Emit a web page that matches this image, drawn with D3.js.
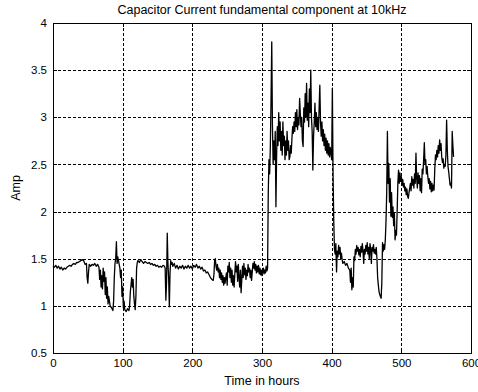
<!DOCTYPE html>
<html>
<head>
<meta charset="utf-8">
<script src="https://cdn.jsdelivr.net/npm/d3@7"></script>
<style>
  body { margin: 0; background: #fff; }
  svg { display: block; font-family: "Liberation Sans", Arial, sans-serif; }
  .grid line { stroke: #000; stroke-dasharray: 3,2; stroke-width: 1; shape-rendering: crispEdges; }
  .axis text { font-size: 11.5px; fill: #000; }
</style>
</head>
<body>
<svg id="chart"></svg>
<script>
// readings, one per hour or so
var hours = [0,2,4,6,8,10,12,14,16,18,20,22,24,26,28,30,32,34,36,38,40,42,44,46,48,49,50,51,52,54,56,58,60,62,64,66,
  67,68,69,70,71,72,73,74,75,76,77,78,79,80,82,84,86,87,88,89,90,91,92,93,94,95,96,97,98,99,100,101,102,103,105,107,109,
  110,111,112,113,114,115,116,117,118,119,120,121,122,124,126,128,130,132,134,136,138,140,142,144,146,148,150,152,154,
  156,158,160,161,162,163,164,165,166,167,168,169,170,171,172,174,176,178,180,182,184,186,188,190,192,194,196,198,200,
  202,204,206,208,210,212,214,216,218,220,222,224,226,228,230,231,232,233,234,235,236,237,238,239,240,241,242,243,244,
  245,246,247,248,249,250,251,252,253,254,255,256,257,258,259,260,261,262,263,264,265,266,267,268,269,270,271,272,273,
  274,275,276,277,278,279,280,281,282,283,284,285,286,287,288,289,290,291,292,293,294,295,296,297,298,299,300,301,302,
  303,304,305,306,307,308,309,310,311,312,313,314,315,316,317,318,319,320,321,322,323,324,325,326,327,328,329,330,331,
  332,333,334,335,336,337,338,339,340,341,342,343,344,345,346,347,348,349,350,351,352,353,354,355,356,357,358,359,360,
  361,362,363,364,365,366,367,368,369,370,371,372,373,374,375,376,377,378,379,380,381,382,383,384,385,386,387,388,389,
  390,391,392,393,394,395,396,397,398,399,400,401,402,403,404,405,406,407,408,409,410,411,412,413,414,415,416,418,420,
  422,424,426,427,428,429,430,431,432,433,434,435,436,437,438,439,440,441,442,443,444,445,446,447,448,449,450,451,452,
  453,454,455,456,457,458,459,460,461,462,463,464,465,466,467,468,469,470,471,472,473,474,475,476,477,478,479,480,481,
  482,483,484,485,486,487,488,489,490,491,492,493,494,495,496,497,498,499,500,501,502,503,504,505,506,507,508,509,510,
  511,512,513,514,515,516,517,518,519,520,521,522,523,524,525,526,527,528,529,530,531,532,533,534,535,536,537,538,539,
  540,541,542,543,544,545,546,547,548,549,550,551,552,553,554,555,556,557,558,559,560,561,562,563,564,565,566,567,568,
  569,570,571,572,573,574,575];

var amps = [1.42,1.41,1.43,1.40,1.42,1.39,1.41,1.38,1.40,1.39,1.41,1.42,1.43,1.42,1.44,1.45,1.44,1.46,1.46,1.47,1.48,1.49,1.48,1.44,1.45,1.30,1.24,1.36,1.44,1.42,1.44,1.43,1.45,1.42,1.44,1.41,
  1.28,1.38,1.20,1.32,1.18,1.40,1.26,1.36,1.12,1.30,1.08,1.20,1.02,1.10,1.00,0.98,0.95,1.05,1.30,1.45,1.50,1.68,1.45,1.52,1.48,1.44,1.40,1.30,1.38,1.10,1.20,0.98,1.05,0.96,0.94,0.97,0.95,
  1.00,1.15,1.22,1.30,1.20,1.28,1.10,1.02,0.96,1.10,1.40,1.46,1.48,1.46,1.49,1.47,1.45,1.47,1.46,1.45,1.46,1.44,1.45,1.43,1.44,1.42,1.43,1.41,1.42,
  1.41,1.43,1.42,1.40,1.06,1.25,1.77,1.45,1.30,0.99,1.35,1.48,1.44,1.46,1.42,1.45,1.40,1.43,1.39,1.42,1.40,1.43,1.39,1.42,1.40,1.43,1.40,1.42,1.39,
  1.43,1.41,1.44,1.40,1.42,1.39,1.41,1.37,1.38,1.35,1.36,1.33,1.30,1.28,1.27,1.33,1.48,1.50,1.42,1.38,1.44,1.36,1.40,1.30,1.38,1.28,1.35,1.25,1.32,
  1.22,1.30,1.24,1.30,1.35,1.22,1.42,1.36,1.46,1.30,1.40,1.25,1.38,1.22,1.32,1.20,1.34,1.47,1.36,1.42,1.26,1.44,1.30,1.20,1.38,1.14,1.28,1.42,1.30,
  1.45,1.33,1.40,1.28,1.38,1.32,1.44,1.36,1.40,1.30,1.38,1.27,1.36,1.45,1.40,1.47,1.38,1.44,1.35,1.42,1.36,1.43,1.34,1.40,1.33,1.38,1.32,1.36,1.40,
  1.34,1.38,1.35,1.42,1.37,1.40,2.20,2.55,2.40,2.70,3.20,3.80,2.90,2.50,2.75,2.55,2.85,2.05,2.60,2.90,2.70,3.05,2.75,2.95,2.65,2.85,2.60,2.95,2.70,
  2.80,2.55,2.75,2.60,2.85,2.65,2.75,2.55,2.58,2.70,2.62,2.78,2.90,2.83,2.95,2.85,3.05,2.90,3.08,2.87,3.00,2.92,3.20,3.04,2.90,3.00,2.75,2.69,3.10,
  2.95,3.25,3.00,3.36,2.97,3.15,2.90,3.30,3.05,3.50,3.00,2.85,2.44,2.80,2.95,3.15,2.90,3.05,2.87,3.00,2.85,3.10,3.34,2.95,2.80,2.95,2.75,2.87,2.70,
  2.82,2.65,2.78,2.62,2.75,2.60,2.72,2.58,2.68,2.62,2.55,3.31,2.40,1.90,1.60,1.55,1.66,1.36,1.58,1.52,1.64,1.55,1.62,1.50,1.56,1.49,1.45,1.47,1.43,
  1.45,1.40,1.38,1.25,1.40,1.17,1.30,1.20,1.52,1.48,1.60,1.55,1.64,1.58,1.62,1.54,1.60,1.52,1.63,1.57,1.66,1.58,1.45,1.60,1.55,1.64,1.58,1.67,1.55,
  1.62,1.50,1.66,1.60,1.45,1.62,1.58,1.65,1.56,1.60,1.55,1.62,1.50,1.30,1.22,1.15,1.12,1.10,1.08,1.25,1.67,1.58,1.65,1.60,1.70,1.90,2.20,2.85,2.30,
  2.51,2.10,2.35,1.95,2.20,1.94,2.05,1.85,1.98,1.70,1.80,1.75,2.00,2.30,2.44,2.30,2.41,2.32,2.37,2.28,2.34,2.26,2.30,2.22,2.26,2.18,2.24,2.16,2.14,
  2.20,2.25,2.30,2.22,2.37,2.28,2.34,2.25,2.40,2.30,2.62,2.35,2.25,2.41,2.30,2.38,2.22,2.35,2.20,2.45,2.40,2.55,2.73,2.50,2.55,2.40,2.48,2.37,2.30,
  2.35,2.24,2.32,2.21,2.30,2.22,2.28,2.23,2.45,2.60,2.55,2.65,2.58,2.70,2.62,2.76,2.65,2.72,2.58,2.52,2.56,2.46,2.50,2.48,2.60,2.97,2.65,2.48,2.42,
  2.35,2.28,2.30,2.25,2.85,2.70,2.58];

var xTicks = [0, 100, 200, 300, 400, 500, 600];
var yTicks = [0.5, 1, 1.5, 2, 2.5, 3, 3.5, 4];

var width = 478, height = 392;
var margin = { top: 23, right: 7, bottom: 39, left: 53 };
var plotW = width - margin.left - margin.right,
    plotH = height - margin.top - margin.bottom;

var svg = d3.select("#chart").attr("width", width).attr("height", height);

var x = d3.scaleLinear().domain([0, 600]).range([margin.left, margin.left + plotW]);
var y = d3.scaleLinear().domain([0.5, 4]).range([margin.top + plotH, margin.top]);

// grid
var grid = svg.append("g").attr("class", "grid");
grid.selectAll(".vg").data(xTicks.slice(1, -1)).enter().append("line")
  .attr("x1", function(d) { return Math.round(x(d)) + 0.5; })
  .attr("x2", function(d) { return Math.round(x(d)) + 0.5; })
  .attr("y1", margin.top).attr("y2", margin.top + plotH);
grid.selectAll(".hg").data(yTicks.slice(1, -1)).enter().append("line")
  .attr("y1", function(d) { return Math.round(y(d)) + 0.5; })
  .attr("y2", function(d) { return Math.round(y(d)) + 0.5; })
  .attr("x1", margin.left).attr("x2", margin.left + plotW);

// data line
var pts = hours.map(function(h, i) { return [h, amps[i]]; });
var line = d3.line().x(function(d) { return x(d[0]); }).y(function(d) { return y(d[1]); });
svg.append("path").datum(pts)
  .attr("d", line)
  .attr("fill", "none")
  .attr("stroke", "#000")
  .attr("stroke-width", 1.3)
  .attr("stroke-linejoin", "round");

// axes with inward ticks like matlab
var bottomAxis = d3.axisBottom(x).tickValues(xTicks).tickSize(-4).tickPadding(6);
var topAxis = d3.axisTop(x).tickValues(xTicks).tickSize(-4).tickFormat("");
var leftAxis = d3.axisLeft(y).tickValues(yTicks).tickSize(-4).tickPadding(6).tickFormat(d3.format("~g"));
var rightAxis = d3.axisRight(y).tickValues(yTicks).tickSize(-4).tickFormat("");

svg.append("g").attr("class", "axis").attr("transform", "translate(0," + (margin.top + plotH) + ")").call(bottomAxis);
svg.append("g").attr("class", "axis").attr("transform", "translate(0," + margin.top + ")").call(topAxis);
svg.append("g").attr("class", "axis").attr("transform", "translate(" + margin.left + ",0)").call(leftAxis);
svg.append("g").attr("class", "axis").attr("transform", "translate(" + (margin.left + plotW) + ",0)").call(rightAxis);
svg.selectAll(".axis path, .axis line").attr("stroke", "#000").attr("shape-rendering", "crispEdges");

// titles
svg.append("text")
  .attr("x", margin.left + plotW / 2).attr("y", 14)
  .attr("text-anchor", "middle").attr("font-size", 12.5)
  .text("Capacitor Current fundamental component at 10kHz");
svg.append("text")
  .attr("x", margin.left + plotW / 2).attr("y", 385)
  .attr("text-anchor", "middle").attr("font-size", 12.5)
  .text("Time in hours");
svg.append("text")
  .attr("transform", "translate(20," + (margin.top + plotH / 2) + ") rotate(-90)")
  .attr("text-anchor", "middle").attr("font-size", 12.5)
  .text("Amp");
</script>
</body>
</html>
